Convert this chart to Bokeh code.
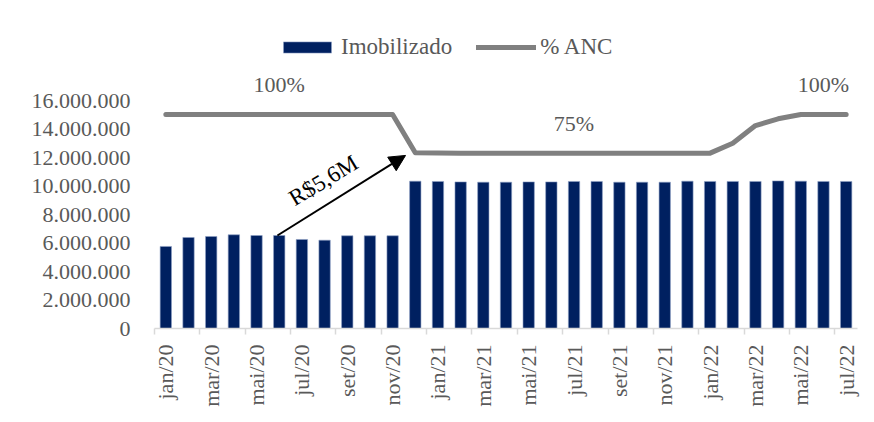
import math
from bokeh.plotting import figure
from bokeh.models import (Range1d, FixedTicker, Legend, LegendItem, Arrow,
                          NormalHead, ColumnDataSource, Label)
from bokeh.core.properties import value
from bokeh.embed import file_html
from bokeh.resources import INLINE

# ---------------- data ----------------
months = ["jan/20", "fev/20", "mar/20", "abr/20", "mai/20", "jun/20", "jul/20", "ago/20",
          "set/20", "out/20", "nov/20", "dez/20", "jan/21", "fev/21", "mar/21", "abr/21",
          "mai/21", "jun/21", "jul/21", "ago/21", "set/21", "out/21", "nov/21", "dez/21",
          "jan/22", "fev/22", "mar/22", "abr/22", "mai/22", "jun/22", "jul/22"]
imobilizado = [5.77e6, 6.40e6, 6.47e6, 6.59e6, 6.54e6, 6.54e6, 6.26e6, 6.21e6,
               6.52e6, 6.52e6, 6.52e6, 10.36e6, 10.34e6, 10.31e6, 10.29e6, 10.29e6,
               10.31e6, 10.31e6, 10.34e6, 10.34e6, 10.29e6, 10.29e6, 10.29e6, 10.36e6,
               10.34e6, 10.34e6, 10.34e6, 10.38e6, 10.36e6, 10.34e6, 10.34e6]
anc = [100, 100, 100, 100, 100, 100, 100, 100, 100, 100, 100, 75.0, 74.9, 74.8,
       74.8, 74.8, 74.8, 74.8, 74.8, 74.8, 74.8, 74.7, 74.8, 74.8, 74.8, 81.3,
       92.8, 97.2, 100, 100, 100]
y_ticks = [0, 2e6, 4e6, 6e6, 8e6, 10e6, 12e6, 14e6, 16e6]
y_tick_labels = ["0", "2.000.000", "4.000.000", "6.000.000", "8.000.000",
                 "10.000.000", "12.000.000", "14.000.000", "16.000.000"]
pct_label_idx = [5, 18, 29]
pct_label_text = ["100%", "75%", "100%"]
arrow_text = "R$5,6M"

# ---------------- styling ----------------
FONT = "Liberation Serif"
GREY_TXT = "#595959"
NAVY = "#002060"
LINE_GREY = "#808080"

x = list(range(len(months)))
src = ColumnDataSource(dict(x=x, imob=imobilizado, anc=anc, month=months))

p = figure(width=866, height=414, output_backend="svg", toolbar_location=None,
           x_range=Range1d(-0.5, 30.5), y_range=Range1d(0, 21.66e6),
           min_border_left=154, min_border_right=9, min_border_top=20,
           min_border_bottom=86)
p.extra_y_ranges = {"anc": Range1d(-39.7, 161.4)}
p.outline_line_color = None
p.xgrid.grid_line_color = None
p.ygrid.grid_line_color = None
p.background_fill_color = "white"
p.border_fill_color = "white"

bars = p.vbar(x="x", top="imob", width=0.5, source=src, fill_color=NAVY,
              line_color="#8da0c4", line_width=0.6)
line = p.line(x="x", y="anc", source=src, y_range_name="anc", line_color=LINE_GREY,
              line_width=5, line_cap="round", line_join="round")

# percentage labels
lab_src = ColumnDataSource(dict(x=pct_label_idx, y=[anc[i] for i in pct_label_idx],
                                t=pct_label_text))
p.text(x="x", y="y", text="t", source=lab_src, y_range_name="anc", y_offset=-30,
       text_font=value(FONT), text_font_size="22px", text_color=GREY_TXT,
       text_align="center", text_baseline="middle")

# arrow annotation
p.add_layout(Arrow(x_start=4.92, y_start=imobilizado[5], x_end=10.57, y_end=12.17e6,
                   line_color="black", line_width=2,
                   end=NormalHead(size=16, fill_color="black", line_color="black")))
p.add_layout(Label(x=6.95, y=10.41e6, text=arrow_text, angle=31, angle_units="deg",
                   text_font=FONT, text_font_size="23px", text_color="black",
                   text_align="center", text_baseline="middle"))

# axes
xa = p.xaxis[0]
xa.ticker = FixedTicker(ticks=list(range(0, 31, 2)),
                        minor_ticks=[i - 0.5 for i in range(0, 31, 2)])
xa.major_label_overrides = {i: months[i] for i in range(0, 31, 2)}
xa.major_label_orientation = math.pi / 2
xa.major_tick_line_color = None
xa.major_tick_out = 0
xa.major_tick_in = 0
xa.minor_tick_out = 6
xa.minor_tick_in = 0
xa.minor_tick_line_color = "#d9d9d9"
xa.minor_tick_line_width = 1.5
xa.axis_line_color = "#d9d9d9"
xa.axis_line_width = 1.5
xa.major_label_standoff = 10
xa.major_label_text_font = FONT
xa.major_label_text_font_size = "22px"
xa.major_label_text_color = GREY_TXT

ya = p.yaxis[0]
ya.ticker = FixedTicker(ticks=y_ticks)
ya.major_label_overrides = {t: l for t, l in zip(y_ticks, y_tick_labels)}
ya.axis_line_color = None
ya.major_tick_line_color = None
ya.minor_tick_line_color = None
ya.major_tick_out = 0
ya.major_tick_in = 0
ya.major_label_standoff = 24
ya.major_label_text_font = FONT
ya.major_label_text_font_size = "22px"
ya.major_label_text_color = GREY_TXT

legend = Legend(items=[LegendItem(label="Imobilizado", renderers=[bars]),
                       LegendItem(label="% ANC", renderers=[line])],
                orientation="horizontal", location=(123, 268),
                glyph_width=60, glyph_height=14, label_standoff=4, spacing=24,
                padding=0, margin=0, border_line_color=None,
                background_fill_alpha=0, label_height=22)
legend.label_text_font = "'Liberation Serif', 'Times New Roman', serif"
legend.label_text_font_size = "23px"
legend.label_text_color = GREY_TXT
p.add_layout(legend)

open("out.html", "w").write(file_html(p, INLINE))
